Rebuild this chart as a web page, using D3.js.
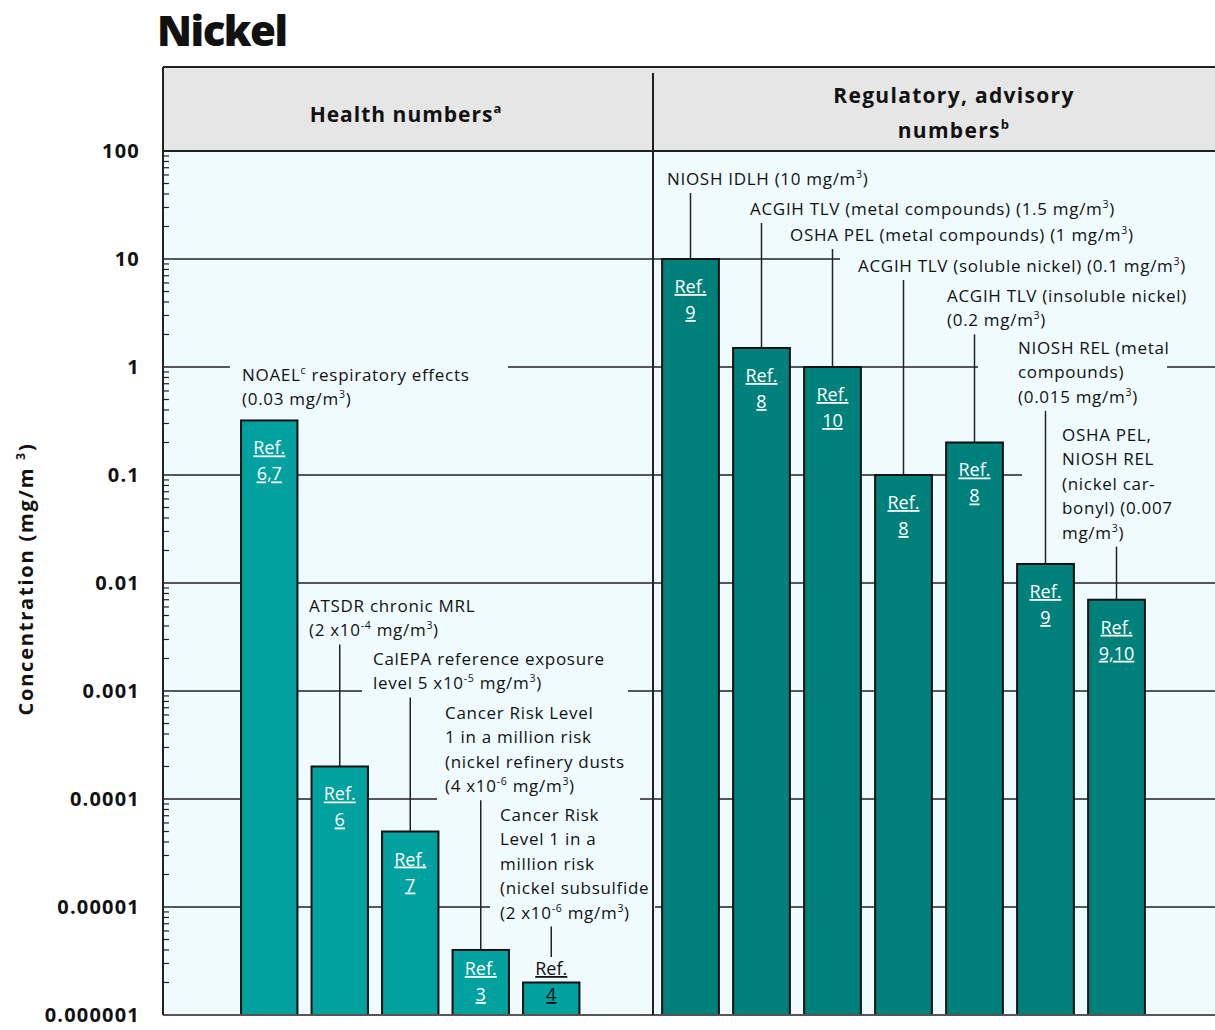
<!DOCTYPE html>
<html>
<head>
<meta charset="utf-8">
<script src="https://cdn.jsdelivr.net/npm/d3@7"></script>
<style>
  body{ margin:0; background:#fff; }
  svg text{ font-family:"Open Sans", sans-serif; fill:#111; }
  .bold{ font-weight:700; }
  .note{ font-size:17px; letter-spacing:0.7px; }
  .reflab{ font-size:18px; text-decoration:underline; }
</style>
</head>
<body>
<svg id="chart" width="1215" height="1030"></svg>
<script>
// values, mg/m3
var healthRefs = ["6,7", "6", "7", "3", "4"];
var healthValues = [0.32, 0.0002, 0.00005, 0.000004, 0.000002];
var healthNotes = [
  ["NOAEL^c respiratory effects", "(0.03 mg/m^3)"],
  ["ATSDR chronic MRL", "(2 x10^-4 mg/m^3)"],
  ["CalEPA reference exposure", "level 5 x10^-5 mg/m^3)"],
  ["Cancer Risk Level", "1 in a million risk", "(nickel refinery dusts", "(4 x10^-6 mg/m^3)"],
  ["Cancer Risk", "Level 1 in a", "million risk", "(nickel subsulfide", "(2 x10^-6 mg/m^3)"]
];
var regRefs = ["9", "8", "10", "8", "8", "9", "9,10"];
var regValues = [10, 1.5, 1, 0.1, 0.2, 0.015, 0.007];
var regNotes = [
  ["NIOSH IDLH (10 mg/m^3)"],
  ["ACGIH TLV (metal compounds) (1.5 mg/m^3)"],
  ["OSHA PEL (metal compounds) (1 mg/m^3)"],
  ["ACGIH TLV (soluble nickel) (0.1 mg/m^3)"],
  ["ACGIH TLV (insoluble nickel)", "(0.2 mg/m^3)"],
  ["NIOSH REL (metal", "compounds)", "(0.015 mg/m^3)"],
  ["OSHA PEL,", "NIOSH REL", "(nickel car-", "bonyl) (0.007", "mg/m^3)"]
];
var decades = [100, 10, 1, 0.1, 0.01, 0.001, 0.0001, 0.00001, 0.000001];

// where each note sits: text x, first baseline, box left, box right
var healthNoteAt = [[242, 381, 230, 508], [309, 612, 300, 480], [373, 665, 362, 628], [445, 719, 437, 640], [500, 821, 490, 655]];
var regNoteAt = [[667, 185, 660, 880], [750, 215, 742, 1125], [790, 241, 782, 1145], [858, 272, 840, 1215],
                 [947, 302, 940, 1205], [1018, 354, 978, 1167], [1062, 441, 1022, 1215]];

var pLeft = 163, pRight = 1215, pTop = 151, pBottom = 1015, headTop = 67, divX = 653;
var lineH = 24.4;

var svg = d3.select("#chart");

var y = d3.scaleLog().domain([0.000001, 100]).range([pBottom, pTop]);
var xHealth = d3.scaleBand().domain(d3.range(healthRefs.length)).range([234, 586.5]).paddingInner(0.2).paddingOuter(0.1);
var xReg = d3.scaleBand().domain(d3.range(regRefs.length)).range([655, 1152]).paddingInner(0.2).paddingOuter(0.1);

function rich(sel, str){
  str.split(/(\^-?[0-9a-z])/).forEach(function(p){
    if (!p) return;
    if (p[0] == "^") sel.append("tspan").attr("baseline-shift", "super").attr("font-size", "62%").text(p.slice(1));
    else sel.append("tspan").text(p);
  });
}

// title
svg.append("text").attr("x", 157).attr("y", 46)
  .style("font-size", "42px").style("font-weight", 800).style("letter-spacing", "-1.5px").text("Nickel");

// header + plot backgrounds
svg.append("rect").attr("x", pLeft).attr("y", headTop).attr("width", pRight - pLeft).attr("height", pTop - headTop).attr("fill", "#e6e6e6");
svg.append("rect").attr("x", pLeft).attr("y", pTop).attr("width", pRight - pLeft).attr("height", pBottom - pTop).attr("fill", "#effbfe");

svg.append("text").attr("class", "bold").attr("x", 406).attr("y", 122).attr("text-anchor", "middle")
  .style("font-size", "21px").style("letter-spacing", "1px").call(rich, "Health numbers^a");
svg.append("text").attr("class", "bold").attr("x", 954).attr("y", 103).attr("text-anchor", "middle")
  .style("font-size", "21px").style("letter-spacing", "1.3px").text("Regulatory, advisory");
svg.append("text").attr("class", "bold").attr("x", 954).attr("y", 138).attr("text-anchor", "middle")
  .style("font-size", "21px").style("letter-spacing", "1.3px").call(rich, "numbers^b");

// gridlines at each decade
svg.append("g").selectAll("line").data(decades.slice(1, -1)).enter().append("line")
  .attr("x1", pLeft).attr("x2", pRight).attr("y1", function(d){ return y(d); }).attr("y2", function(d){ return y(d); })
  .attr("stroke", "#222").attr("stroke-width", 1.5);

// minor ticks
var minor = y.ticks().filter(function(d){ return decades.indexOf(d) < 0; });
svg.append("g").selectAll("line").data(minor).enter().append("line")
  .attr("x1", pLeft).attr("x2", pLeft + 6).attr("y1", function(d){ return y(d); }).attr("y2", function(d){ return y(d); })
  .attr("stroke", "#222").attr("stroke-width", 1.2);

// y axis labels
function fmt(v){
  if (v >= 1) return String(v);
  return v.toFixed(Math.round(-Math.log10(v)));
}
var yAxis = svg.append("g").attr("transform", "translate(" + pLeft + ",0)")
  .call(d3.axisLeft(y).tickValues(decades).tickSize(0).tickPadding(23).tickFormat(fmt));
yAxis.select(".domain").remove();
yAxis.selectAll("text").attr("class", "bold").style("font-size", "20px").style("font-family", "Open Sans").style("letter-spacing", "1.2px");

svg.append("text").attr("class", "bold").attr("transform", "translate(33,579) rotate(-90)")
  .attr("text-anchor", "middle").style("font-size", "20px").style("letter-spacing", "1.8px").call(rich, "Concentration (mg/m ^3)");

// groups of bars and notes
var groups = [
  {refs: healthRefs, vals: healthValues, notes: healthNotes, at: healthNoteAt, x: xHealth, fill: "#00a19f"},
  {refs: regRefs, vals: regValues, notes: regNotes, at: regNoteAt, x: xReg, fill: "#00807b"}
];

// note boxes hide the gridlines behind them
groups.forEach(function(g){
  g.notes.forEach(function(lines, i){
    var a = g.at[i];
    svg.append("rect").attr("x", a[2]).attr("y", a[1] - 18).attr("width", a[3] - a[2])
      .attr("height", (lines.length - 1) * lineH + 26).attr("fill", "#effbfe");
  });
});

function labelBase(v){ return Math.min(y(v) + 34, pBottom - 40); }

// leaders from note to bar
groups.forEach(function(g){
  g.notes.forEach(function(lines, i){
    var a = g.at[i];
    var y0 = a[1] + (lines.length - 1) * lineH + 8;
    var y1 = Math.min(y(g.vals[i]), labelBase(g.vals[i]) - 18);
    if (y1 - y0 < 14) return;
    var cx = g.x(i) + g.x.bandwidth() / 2;
    svg.append("line").attr("x1", cx).attr("x2", cx).attr("y1", y0).attr("y2", y1)
      .attr("stroke", "#222").attr("stroke-width", 1.5);
  });
});

// bars
groups.forEach(function(g){
  svg.append("g").selectAll("rect").data(g.vals).enter().append("rect")
    .attr("x", function(d, i){ return g.x(i); })
    .attr("y", function(d){ return y(d); })
    .attr("width", g.x.bandwidth())
    .attr("height", function(d){ return pBottom - y(d); })
    .attr("fill", g.fill).attr("stroke", "#111").attr("stroke-width", 2);

  g.vals.forEach(function(v, i){
    var cx = g.x(i) + g.x.bandwidth() / 2;
    var b = labelBase(v);
    var col = (pBottom - y(v)) < 50 ? "#111" : "#fff";
    [ "Ref.", g.refs[i] ].forEach(function(t, k){
      svg.append("text").attr("class", "reflab").attr("x", cx).attr("y", b + k * 26)
        .attr("text-anchor", "middle").style("fill", col).text(t);
    });
  });
});

// note text
groups.forEach(function(g){
  g.notes.forEach(function(lines, i){
    var a = g.at[i];
    lines.forEach(function(t, k){
      svg.append("text").attr("class", "note").attr("x", a[0]).attr("y", a[1] + k * lineH).call(rich, t);
    });
  });
});

// frame
svg.append("line").attr("x1", pLeft).attr("x2", pRight).attr("y1", headTop).attr("y2", headTop).attr("stroke", "#222").attr("stroke-width", 2);
svg.append("line").attr("x1", pLeft).attr("x2", pRight).attr("y1", pTop).attr("y2", pTop).attr("stroke", "#222").attr("stroke-width", 2);
svg.append("line").attr("x1", pLeft).attr("x2", pRight).attr("y1", pBottom).attr("y2", pBottom).attr("stroke", "#555").attr("stroke-width", 2);
svg.append("line").attr("x1", pLeft).attr("x2", pLeft).attr("y1", headTop).attr("y2", pBottom).attr("stroke", "#222").attr("stroke-width", 2);
svg.append("line").attr("x1", divX).attr("x2", divX).attr("y1", headTop + 6).attr("y2", pBottom).attr("stroke", "#222").attr("stroke-width", 2);
</script>
</body>
</html>
